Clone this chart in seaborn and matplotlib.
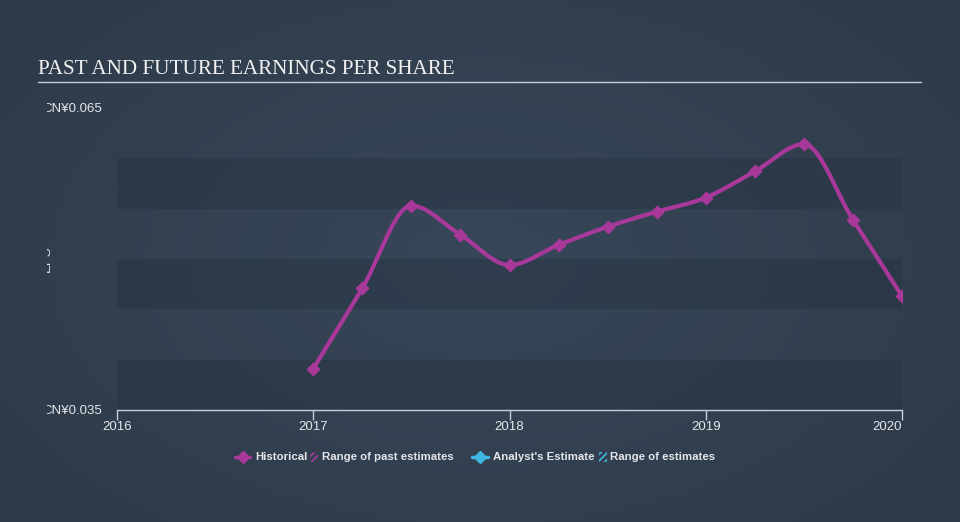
import numpy as np
import pandas as pd
import matplotlib
matplotlib.use("Agg")
import matplotlib.pyplot as plt
import seaborn as sns
from matplotlib.lines import Line2D
from matplotlib.patches import Rectangle
from matplotlib.transforms import Bbox, TransformedBbox

# ---------------- data ----------------
periods = [2017.0, 2017.25, 2017.5, 2017.75, 2018.0, 2018.25, 2018.5,
           2018.75, 2019.0, 2019.25, 2019.5, 2019.75, 2020.0]
eps_hist = [0.0391, 0.0471, 0.0553, 0.0524, 0.0494, 0.0514, 0.0532,
            0.0547, 0.0561, 0.0587, 0.0614, 0.0539, 0.0463]
y_ticks = [0.035, 0.065]
y_tick_labels = ["CN¥0.035", "CN¥0.065"]
x_ticks = [2016, 2017, 2018, 2019, 2020]
x_tick_labels = ["2016", "2017", "2018", "2019", "2020"]
dark_band_starts = [0.035, 0.045, 0.055]
band_height = 0.005
title = "PAST AND FUTURE EARNINGS PER SHARE"
y_label = "EPS"
legend_labels = ["Historical", "Range of past estimates",
                 "Analyst's Estimate", "Range of estimates"]

HIST = "#a8399a"
EST = "#3fb6e2"
TXT = "#e4e6ea"
AXC = "#c9ced6"
W, H = 960, 522


def monotone_x(x, y, n=40):
    x = np.asarray(x, float)
    y = np.asarray(y, float)
    h = np.diff(x)
    s = np.diff(y) / h
    m = np.zeros_like(y)
    for i in range(1, len(y) - 1):
        p = (s[i - 1] * h[i] + s[i] * h[i - 1]) / (h[i - 1] + h[i])
        m[i] = (np.sign(s[i - 1]) + np.sign(s[i])) * min(abs(s[i - 1]), abs(s[i]), 0.5 * abs(p))
    m[0] = (3 * s[0] - m[1]) / 2
    m[-1] = (3 * s[-1] - m[-2]) / 2
    xs, ys = [], []
    for i in range(len(x) - 1):
        t = np.linspace(0, 1, n, endpoint=(i == len(x) - 2))
        h00 = 2 * t**3 - 3 * t**2 + 1
        h10 = t**3 - 2 * t**2 + t
        h01 = -2 * t**3 + 3 * t**2
        h11 = t**3 - t**2
        xs.append(x[i] + t * h[i])
        ys.append(h00 * y[i] + h10 * h[i] * m[i] + h01 * y[i + 1] + h11 * h[i] * m[i + 1])
    return np.concatenate(xs), np.concatenate(ys)


sns.set_theme(style="dark")
plt.rcParams["font.family"] = ["Liberation Sans", "DejaVu Sans"]
plt.rcParams["hatch.linewidth"] = 1.2

fig = plt.figure(figsize=(9.6, 5.22), dpi=100)


def fx(px):
    return px / W


def fy(py):
    return 1 - py / H


# background gradient
bg = fig.add_axes([0, 0, 1, 1], zorder=-10)
yy, xx = np.mgrid[0:1:200j, 0:1:200j]
r = np.sqrt(((xx - 0.5) / 0.8) ** 2 + ((yy - 0.5) / 0.9) ** 2)
c_in = np.array([0x37, 0x47, 0x59]) / 255
c_out = np.array([0x2f, 0x3b, 0x4a]) / 255
w = np.clip(r / 0.75, 0, 1)[..., None]
img = c_in * (1 - w) + c_out * w
bg.imshow(img, extent=[0, 1, 0, 1], aspect="auto", origin="lower")
bg.axis("off")

L, R = fx(117), fx(902)
B, T = fy(410), fy(108)
ax = fig.add_axes([L, B, R - L, T - B])
ax.set_facecolor("none")

for b0 in dark_band_starts:
    ax.axhspan(b0, b0 + band_height, color="#273240", alpha=0.45, lw=0, zorder=0)

sx, sy = monotone_x(periods, eps_hist)
curve = pd.DataFrame({"period": sx, "eps": sy})
pts = pd.DataFrame({"period": periods, "eps": eps_hist})
sns.lineplot(data=curve, x="period", y="eps", ax=ax, color=HIST, lw=3, zorder=3)
sns.scatterplot(data=pts, x="period", y="eps", ax=ax, color=HIST, marker="D",
                s=45, edgecolor=HIST, zorder=4)

ax.set_xlim(2016, 2020)
ax.set_ylim(0.035, 0.065)
for sp in ["top", "right", "left"]:
    ax.spines[sp].set_visible(False)
ax.spines["bottom"].set_visible(True)
ax.spines["bottom"].set_color(AXC)
ax.spines["bottom"].set_linewidth(1)

ax.set_xticks(x_ticks)
ax.set_xticklabels(x_tick_labels)
ax.get_xticklabels()[-1].set_horizontalalignment("right")
ax.set_yticks(y_ticks)
ax.set_yticklabels(y_tick_labels)
ax.tick_params(axis="x", length=7, width=1, color=AXC, colors=TXT,
               labelsize=9.5, pad=1, bottom=True)
ax.tick_params(axis="x", color=AXC)
ax.tick_params(axis="y", length=0, labelsize=9.5, labelcolor=TXT, pad=11)
ax.grid(False)
ax.set_xlabel("")
ax.set_ylabel("")

clip = TransformedBbox(Bbox([[fx(47), 0], [1, 1]]), fig.transFigure)
for lab in ax.get_yticklabels():
    lab.set_clip_on(True)
    lab.set_clip_box(clip)

# clipped y-axis title (only a sliver is visible in the reference)
ylab = fig.text(fx(47), fy(259), y_label, rotation=90, color=TXT, fontsize=9.5,
                ha="center", va="center")
ylab.set_clip_on(True)
ylab.set_clip_box(clip)

# title + underline
fig.text(fx(38), fy(69), title, family="Liberation Serif", fontsize=15.2,
         color="#f2f2f2", va="center", ha="left")
fig.add_artist(Line2D([fx(38), fx(921)], [fy(82), fy(82)],
                      transform=fig.transFigure, color=AXC, lw=1))

# legend (manual layout)
ly = 457
lprops = dict(weight="bold", size=8.2, family="Liberation Sans", color=TXT,
              va="center", ha="left")
for (x0, x1), col in (((235, 250), HIST), ((472, 488), EST)):
    fig.add_artist(Line2D([fx(x0), fx(x1)], [fy(ly), fy(ly)], transform=fig.transFigure,
                          color=col, lw=2.5))
    fig.add_artist(Line2D([fx((x0 + x1) / 2)], [fy(ly)], transform=fig.transFigure,
                          color=col, marker="D", ms=6, lw=0))
for x0, col in ((310, HIST), (599, EST)):
    fig.add_artist(Rectangle((fx(x0), fy(462)), fx(8), 10 / H, transform=fig.transFigure,
                             facecolor="none", edgecolor=col, hatch="/////", lw=0))
for x0, lab in zip((255, 322, 493, 610), legend_labels):
    fig.text(fx(x0), fy(ly), lab, **lprops)

fig.savefig("out.png", dpi=100, facecolor="#323f4f")
